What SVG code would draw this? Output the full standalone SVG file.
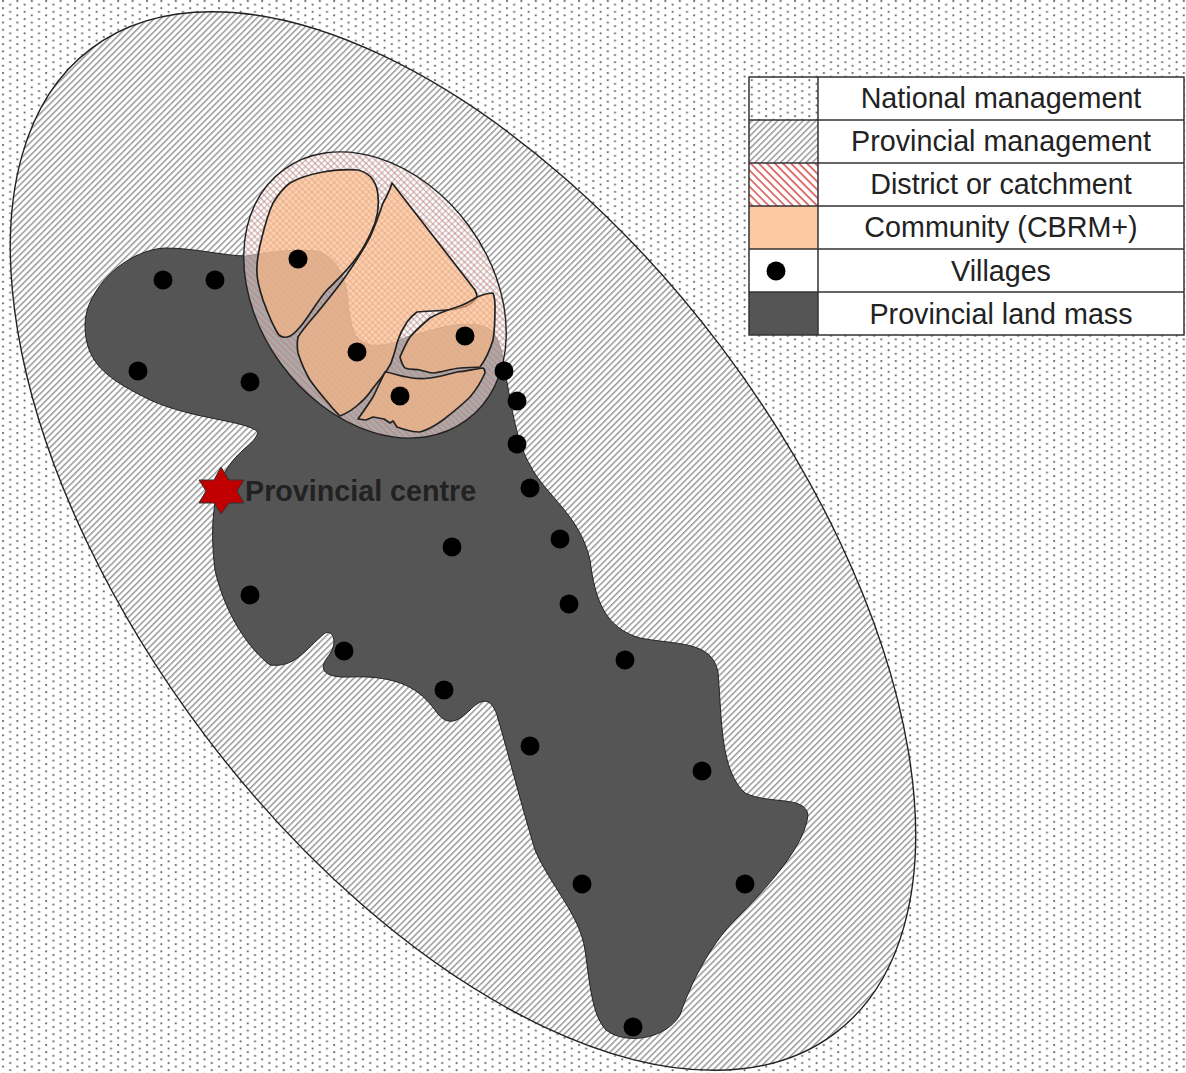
<svg xmlns="http://www.w3.org/2000/svg" width="1186" height="1073" viewBox="0 0 1186 1073">
<style>
.o{stroke:#222;stroke-width:1.4}
.c{fill:#fcb884;fill-opacity:.65;stroke:#222;stroke-width:1.7;stroke-linejoin:round}
.d{fill:#000}
.t{font-family:"Liberation Sans",Arial,sans-serif;font-size:28.7px;fill:#222;text-anchor:middle}
</style>
<defs>
<pattern id="nat" width="14.4" height="7.2" patternUnits="userSpaceOnUse"><rect width="14.4" height="7.2" fill="#fff"/><circle cx="3" cy="1" r="1.1" fill="#6a6a6a"/><circle cx="10.2" cy="4.6" r="1.1" fill="#6a6a6a"/></pattern>
<pattern id="pro" width="4.5" height="4.5" patternUnits="userSpaceOnUse" patternTransform="rotate(-45)"><rect width="4.5" height="4.5" fill="#fff"/><rect width="4.5" height="1.5" fill="#999"/></pattern>
<pattern id="dis" width="5.7" height="5.7" patternUnits="userSpaceOnUse" patternTransform="rotate(45)"><rect width="5.7" height="5.7" fill="#fff"/><rect width="5.7" height="1.7" fill="#d8605a"/></pattern>
<pattern id="disMesh" width="4.5" height="4.5" patternUnits="userSpaceOnUse" patternTransform="rotate(45)"><rect width="4.5" height="4.5" fill="#fff" fill-opacity=".5"/><rect width="4.5" height="1.4" fill="#c9736b" fill-opacity=".55"/></pattern>
</defs>
<rect id="national" width="1186" height="1073" fill="url(#nat)"/>
<g id="provincial"><path d="M90.8 48.9A617 323 52.9 1 1 835.2 1033.1A617 323 52.9 1 1 90.8 48.9Z" fill="url(#pro)" class="o"/></g>
<g id="land"><path fill="#555" stroke="#222" stroke-width="1" d="M165 248C195 248 225 256 246 256C265 253 300 247 320 252C335 258 342 272 345 283C348 295 348 310 350 317C352 328 354 333 357 337C365 345 372 346 380 345C392 345 400 340 407 337C425 332 440 327 457 325C472 323 487 325 493 332C500 342 503 355 505 372C510 395 515 440 530 465C545 495 580 515 590 560C595 600 605 628 640 638C675 645 712 640 718 672C722 720 720 770 745 793C770 805 805 795 808 815C805 845 770 885 735 920C710 945 690 985 680 1015C665 1040 625 1045 606 1030C592 1015 590 985 585 950C580 915 550 885 535 850C520 800 510 760 497 715C490 695 480 700 470 710C455 725 445 725 435 710C420 690 400 675 350 677C325 678 318 670 327 658C338 645 335 630 325 633C305 650 295 668 270 665C250 650 225 615 215 570C210 530 213 500 222 478C235 450 255 445 258 432C245 420 195 420 150 400C110 380 85 365 85 325C85 290 125 250 165 248Z"/></g>
<g id="district"><path d="M283.9 169.6A155 116 54 1 1 466.1 420.4A155 116 54 1 1 283.9 169.6Z" fill="url(#disMesh)" class="o"/></g>
<g id="communities">
<path id="c1" class="c" d="M290 183C300 177 312 174 323 172C335 170 348 169 358 170C366 172 370 175 373 180C377 186 378 191 378 197C379 206 378 214 375 223C370 236 365 246 357 257C348 270 338 279 327 290C317 301 309 317 300 327C295 333 291 337 287 337C282 338 279 336 277 332C271 322 267 311 263 300C260 291 257 282 257 273C256 260 259 249 262 237C265 225 268 214 273 203C278 195 283 188 290 183Z"/>
<path id="c2" class="c" d="M392 183L475 290C476 292 477 295 477 297C473 303 468 306 463 307C458 309 452 310 447 310C437 311 427 311 417 312C413 315 410 318 407 322C403 328 400 334 398 340C396 346 395 352 393 357C392 362 390 366 387 370C383 376 378 382 373 388C369 394 365 399 360 403C354 409 347 413 340 416C336 412 333 409 330 405C323 397 316 389 310 380C305 372 301 362 298 353C297 347 297 342 298 337C303 329 310 321 317 313C326 302 335 291 343 280C353 266 362 252 370 237C376 224 379 215 383 203C387 196 390 190 392 183Z"/>
<path id="c3" class="c" d="M493 293C495 298 495 302 495 307C495 318 495 329 493 340C490 350 486 359 480 367C473 368 467 367 460 368C451 369 442 372 433 373C429 373 424 371 420 370C415 369 410 370 405 368C402 365 401 361 400 357C403 350 406 343 410 337C416 330 423 324 430 318C438 313 448 310 457 307C464 305 471 301 477 297C482 295 488 293 493 293Z"/>
<path id="c4" class="c" d="M385 372C392 373 400 376 407 377C415 379 422 379 430 378C439 377 448 374 457 372C466 371 475 369 483 368C485 369 485 371 485 373C481 382 476 390 470 397C462 405 452 413 443 420C436 425 428 430 420 432C412 432 405 430 397 427L393 421L390 423L384 419L373 417L366 420L358 419C363 412 368 405 373 397C377 389 381 380 385 372Z"/>
</g>
<g id="villages">
<circle class="d" cx="163" cy="280" r="9.5"/><circle class="d" cx="215" cy="280" r="9.5"/><circle class="d" cx="298" cy="259" r="9.5"/><circle class="d" cx="138" cy="371" r="9.5"/><circle class="d" cx="250" cy="382" r="9.5"/><circle class="d" cx="357" cy="352" r="9.5"/><circle class="d" cx="465" cy="336" r="9.5"/><circle class="d" cx="400" cy="396" r="9.5"/><circle class="d" cx="504" cy="371" r="9.5"/><circle class="d" cx="517" cy="401" r="9.5"/><circle class="d" cx="517" cy="444" r="9.5"/><circle class="d" cx="530" cy="488" r="9.5"/><circle class="d" cx="452" cy="547" r="9.5"/><circle class="d" cx="560" cy="539" r="9.5"/><circle class="d" cx="569" cy="604" r="9.5"/><circle class="d" cx="250" cy="595" r="9.5"/><circle class="d" cx="344" cy="651" r="9.5"/><circle class="d" cx="444" cy="690" r="9.5"/><circle class="d" cx="625" cy="660" r="9.5"/><circle class="d" cx="530" cy="746" r="9.5"/><circle class="d" cx="702" cy="771" r="9.5"/><circle class="d" cx="582" cy="884" r="9.5"/><circle class="d" cx="745" cy="884" r="9.5"/><circle class="d" cx="633" cy="1027" r="9.5"/>
</g>
<g id="centre">
<path d="M221 467L229 480L244 480L237 491L244 503L229 503L221 514L214 503L199 503L206 491L199 480L214 480Z" fill="#c00000" stroke="#333" stroke-width="1"/>
<text x="245" y="501" font-family="Liberation Sans,Arial,sans-serif" font-size="28.7" font-weight="bold" fill="#222">Provincial centre</text>
</g>
<g id="legend">
<rect x="749" y="77" width="435" height="258" fill="#fff"/>
<rect x="749" y="77" width="69" height="43" fill="url(#nat)"/>
<rect x="749" y="120" width="69" height="43" fill="url(#pro)"/>
<rect x="749" y="163" width="69" height="43" fill="url(#dis)"/>
<rect x="749" y="206" width="69" height="43" fill="#fdc9a2"/>
<circle class="d" cx="776" cy="271" r="9.5"/>
<rect x="749" y="292" width="69" height="43" fill="#555"/>
<path fill="none" stroke="#333" stroke-width="1.5" d="M749 77H1184V335H749ZM818 77V335M749 120H1184M749 163H1184M749 206H1184M749 249H1184M749 292H1184"/>
<text class="t" x="1001" y="108">National management</text>
<text class="t" x="1001" y="151">Provincial management</text>
<text class="t" x="1001" y="194">District or catchment</text>
<text class="t" x="1001" y="237">Community (CBRM+)</text>
<text class="t" x="1001" y="281">Villages</text>
<text class="t" x="1001" y="324">Provincial land mass</text>
</g>
</svg>
